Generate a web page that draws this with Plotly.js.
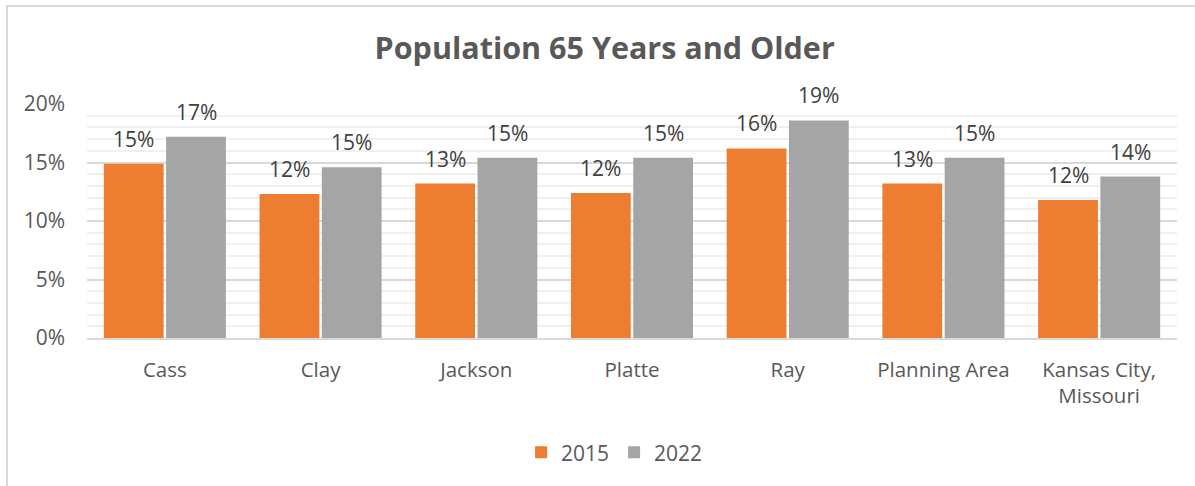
<!DOCTYPE html>
<html>
<head>
<meta charset="utf-8">
<script src="https://cdn.plot.ly/plotly-3.0.1.min.js"></script>
<style>
  html, body { margin: 0; padding: 0; background: #fff; }
  #wrap { position: relative; width: 1195px; height: 486px; }
  #chart { width: 1195px; height: 486px; }
  #frame { position: absolute; left: 6px; top: 5px; right: -10px; bottom: -10px;
           border-left: 2px solid #d9d9d9; border-top: 2px solid #d9d9d9; pointer-events: none; }
</style>
</head>
<body>
<div id="wrap">
  <div id="chart"></div>
  <div id="frame"></div>
</div>
<script>
const categories = ["Cass", "Clay", "Jackson", "Platte", "Ray", "Planning Area", "Kansas City,<br>Missouri"];
const values2015 = [14.9, 12.3, 13.2, 12.4, 16.2, 13.2, 11.8];
const values2022 = [17.2, 14.6, 15.4, 15.4, 18.6, 15.4, 13.8];
const seriesNames = ["2015", "2022"];
const yTickVals = [0, 5, 10, 15, 20];
const yTickText = ["0%", "5%", "10%", "15%", "20%"];

const FONT = "Open Sans, Liberation Sans, sans-serif";
const colors = ["#ED7D31", "#A5A5A5"];
const bargap = 0.2;

const traces = [values2015, values2022].map((vals, s) => ({
  type: "bar",
  name: seriesNames[s],
  x: categories,
  y: vals,
  marker: { color: colors[s] },
  hoverinfo: "x+y+name"
}));

// data labels positioned through the category axis (numeric index) and data y values
const slot = (1 - bargap) / 4;
const annotations = [];
[values2015, values2022].forEach((vals, s) => {
  vals.forEach((v, i) => {
    annotations.push({
      x: i + (s === 0 ? -slot : slot),
      y: v,
      xref: "x", yref: "y",
      text: Math.round(v) + "%",
      showarrow: false,
      yanchor: "bottom",
      yshift: 9,
      font: { family: FONT, size: 21, color: "#404040" }
    });
  });
});

const layout = {
  width: 1195, height: 486,
  margin: { l: 87, r: 18, t: 104, b: 148 },
  paper_bgcolor: "#ffffff",
  plot_bgcolor: "#ffffff",
  barmode: "group",
  bargap: bargap,
  bargroupgap: 0.04,
  font: { family: FONT, size: 20.5, color: "#595959" },
  title: {
    text: "<b>Population 65 Years and Older</b>",
    font: { family: FONT, size: 30.5, color: "#595959" },
    x: 0.506, xref: "container", xanchor: "center",
    y: 0.9, yref: "container", yanchor: "middle"
  },
  xaxis: {
    type: "category",
    tickfont: { family: FONT, size: 20.5, color: "#595959" },
    showgrid: false,
    showline: true, linecolor: "#d9d9d9", linewidth: 2,
    ticks: "", ticklabelstandoff: 12,
    fixedrange: true
  },
  yaxis: {
    range: [0, 20],
    tickvals: yTickVals,
    ticktext: yTickText,
    tickfont: { family: FONT, size: 21, color: "#595959" },
    showgrid: true, gridcolor: "#d9d9d9", gridwidth: 2,
    zeroline: false, showline: false,
    ticks: "", ticklabelstandoff: 21,
    minor: { dtick: 1, showgrid: true, gridcolor: "#f0f0f0", gridwidth: 2 },
    fixedrange: true
  },
  showlegend: true,
  legend: {
    orientation: "h",
    x: 0.484, xanchor: "center",
    y: -0.49, yanchor: "middle",
    font: { family: FONT, size: 21, color: "#595959" },
    itemwidth: 30,
    traceorder: "normal"
  },
  annotations: annotations
};

Plotly.newPlot("chart", traces, layout, { displayModeBar: false, staticPlot: true });
</script>
</body>
</html>
